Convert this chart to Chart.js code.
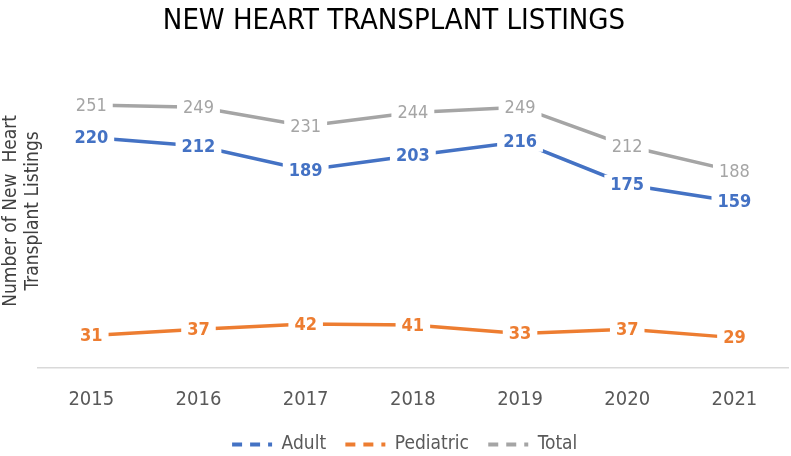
<!DOCTYPE html>
<html>
<head>
<meta charset="utf-8">
<script src="https://cdn.jsdelivr.net/npm/chart.js@4.4.0/dist/chart.umd.min.js"></script>
<style>
  html, body { margin: 0; padding: 0; background: #fff; }
  #wrap { width: 791px; height: 456px; position: relative; }
</style>
</head>
<body>
<div id="wrap"><canvas id="heartChart"></canvas></div>
<script>
// New heart transplant listings by year

const years = ['2015', '2016', '2017', '2018', '2019', '2020', '2021'];
const adultListings = [220, 212, 189, 203, 216, 175, 159];
const pediatricListings = [31, 37, 42, 41, 33, 37, 29];
const totalListings = [251, 249, 231, 244, 249, 212, 188];

const FONT = '"Liberation Sans Narrow", "DejaVu Sans Condensed", "Roboto Condensed", sans-serif';

// Value labels drawn centred on each point, with a white box that breaks the line
const pointLabels = {
    id: 'pointLabels',
    afterDatasetsDraw(chart) {
        const ctx = chart.ctx;
        ctx.save();
        ctx.textAlign = 'center';
        ctx.textBaseline = 'middle';
        chart.data.datasets.forEach((ds, i) => {
            const meta = chart.getDatasetMeta(i);
            ctx.font = (ds.label === 'Total' ? '' : 'bold ') + '18px ' + FONT;
            meta.data.forEach((pt, j) => {
                const text = String(ds.data[j]);
                const w = ctx.measureText(text).width + 12;
                ctx.fillStyle = '#ffffff';
                ctx.fillRect(pt.x - w / 2, pt.y - 10, w, 20);
                ctx.fillStyle = ds.borderColor;
                ctx.fillText(text, pt.x, pt.y + 1);
            });
        });
        ctx.restore();
    }
};

// Legend sits centred under the plot area rather than the whole canvas
const legendShift = {
    id: 'legendShift',
    afterLayout(chart) {
        const lg = chart.legend;
        const dx = (chart.chartArea.left + chart.chartArea.right) / 2 - (lg.left + lg.right) / 2;
        lg.left += dx;
        lg.right += dx;
    }
};

const ctx = document.getElementById('heartChart').getContext('2d');
new Chart(ctx, {
    type: 'line',
    data: {
        labels: years,
        datasets: [
            {
                label: 'Adult',
                data: adultListings,
                borderColor: '#4472C4',
                backgroundColor: '#4472C4',
                borderWidth: 3.5,
                pointRadius: 0,
                tension: 0
            },
            {
                label: 'Pediatric',
                data: pediatricListings,
                borderColor: '#ED7D31',
                backgroundColor: '#ED7D31',
                borderWidth: 3.5,
                pointRadius: 0,
                tension: 0
            },
            {
                label: 'Total',
                data: totalListings,
                borderColor: '#A5A5A5',
                backgroundColor: '#A5A5A5',
                borderWidth: 3.5,
                pointRadius: 0,
                tension: 0
            }
        ]
    },
    options: {
        responsive: true,
        maintainAspectRatio: false,
        animation: false,
        layout: { padding: { left: 0, right: 3, top: 4, bottom: -8 } },
        plugins: {
            title: {
                display: true,
                text: 'NEW HEART TRANSPLANT LISTINGS',
                color: '#000000',
                font: { family: FONT, size: 29, weight: 'normal' },
                padding: { top: 0, bottom: 15 }
            },
            legend: {
                position: 'bottom',
                labels: {
                    color: '#595959',
                    font: { family: FONT, size: 19 },
                    usePointStyle: true,
                    pointStyleWidth: 40,
                    padding: 3,
                    generateLabels(chart) {
                        return chart.data.datasets.map((ds, i) => ({
                            text: ds.label + '   ',
                            fillStyle: ds.borderColor,
                            strokeStyle: ds.borderColor,
                            lineWidth: 4,
                            lineDash: [10, 8],
                            pointStyle: 'line',
                            fontColor: '#595959',
                            datasetIndex: i
                        }));
                    }
                }
            },
            tooltip: { enabled: false }
        },
        scales: {
            x: {
                offset: true,
                grid: { display: false, drawTicks: false },
                border: { display: true, color: '#D9D9D9', width: 1.5 },
                ticks: {
                    color: '#595959',
                    font: { family: FONT, size: 20 },
                    padding: 20
                }
            },
            y: {
                min: 0,
                max: 300,
                grid: { display: false, drawTicks: false },
                border: { display: false },
                ticks: { display: false },
                title: {
                    display: true,
                    text: ['Number of New  Heart', 'Transplant Listings'],
                    color: '#404040',
                    font: { family: FONT, size: 19, lineHeight: 1.15 },
                    padding: { top: 0, bottom: -6 }
                }
            }
        }
    },
    plugins: [pointLabels, legendShift]
});
</script>
</body>
</html>
